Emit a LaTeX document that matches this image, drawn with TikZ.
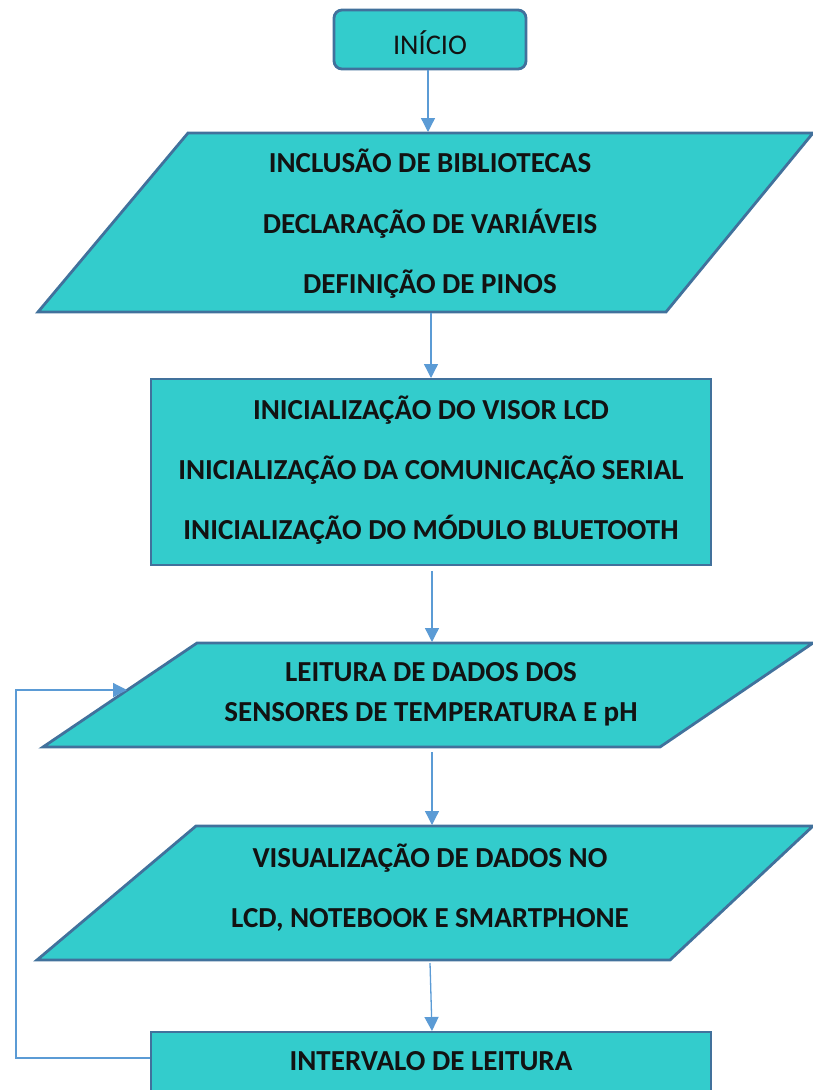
\documentclass[tikz,border=0pt]{standalone}
\usepackage{fontspec}
\setmainfont{Carlito}
\usetikzlibrary{arrows.meta}
\definecolor{fillc}{HTML}{33CCCC}
\definecolor{edgec}{HTML}{41719C}
\definecolor{arrc}{HTML}{5B9BD5}
\tikzset{
  shapebox/.style={fill=fillc, draw=edgec, line width=2.8pt, line join=miter},
  lbl/.style={font=\fontsize{29}{33}\selectfont\bfseries, text=black!93, inner sep=0pt, anchor=base},
  conn/.style={draw=arrc, line width=1.3pt, -{Triangle[length=14pt,width=14pt]}},
}
\begin{document}
\begin{tikzpicture}[x=1pt,y=-1pt]
\useasboundingbox (0,0) rectangle (813,1090);
% start
\draw[shapebox, rounded corners=8pt] (334,10) rectangle (526,69);
\node[font=\fontsize{28.5}{32}\selectfont, text=black!93, inner sep=0pt, anchor=base] (start) at (430,54) {INÍCIO};
\coordinate (startS) at (428,70);
% parallelogram 1
\draw[shapebox] (188,133) -- (813,133) -- (666,312) -- (38,312) -- cycle;
\node[lbl] (p1a) at (430,172) {INCLUSÃO DE BIBLIOTECAS};
\node[lbl] (p1b) at (430,233) {DECLARAÇÃO DE VARIÁVEIS};
\node[lbl] (p1c) at (430,293) {DEFINIÇÃO DE PINOS};
\coordinate (p1N) at (428,132);
\coordinate (p1S) at (431,313);
% rectangle 2
\draw[shapebox] (151,379) rectangle (711,565);
\node[lbl] (r2a) at (431,419) {INICIALIZAÇÃO DO VISOR LCD};
\node[lbl] (r2b) at (431,479) {INICIALIZAÇÃO DA COMUNICAÇÃO SERIAL};
\node[lbl] (r2c) at (431,539) {INICIALIZAÇÃO DO MÓDULO BLUETOOTH};
\coordinate (r2N) at (431,378);
\coordinate (r2S) at (432,571);
% parallelogram 3
\draw[shapebox] (197,643) -- (813,643) -- (660,747) -- (43,747) -- cycle;
\node[lbl] (p3a) at (431,681) {LEITURA DE DADOS DOS};
\node[lbl] (p3b) at (431,721) {SENSORES DE TEMPERATURA E pH};
\coordinate (p3N) at (432,642);
\coordinate (p3S) at (432,752);
\coordinate (p3W) at (127,690);
% parallelogram 4
\draw[shapebox] (196,826) -- (813,826) -- (670,960) -- (37,960) -- cycle;
\node[lbl] (p4a) at (430,867) {VISUALIZAÇÃO DE DADOS NO};
\node[lbl] (p4b) at (430,927) {LCD, NOTEBOOK E SMARTPHONE};
\coordinate (p4N) at (432,825);
\coordinate (p4S) at (430,963);
% rectangle 5
\draw[shapebox] (151,1032) rectangle (711,1100);
\node[lbl] (r5a) at (431,1070) {INTERVALO DE LEITURA};
\coordinate (r5N) at (432,1031);
\coordinate (r5W) at (150,1058);
\coordinate (loopA) at (16,1058);
\coordinate (loopB) at (16,690);
% connectors
\draw[conn] (startS) -- (p1N);
\draw[conn] (p1S) -- (r2N);
\draw[conn] (r2S) -- (p3N);
\draw[conn] (p3S) -- (p4N);
\draw[conn] (p4S) -- (r5N);
\draw[conn] (r5W) -- (loopA) -- (loopB) -- (p3W);
\end{tikzpicture}
\end{document}
